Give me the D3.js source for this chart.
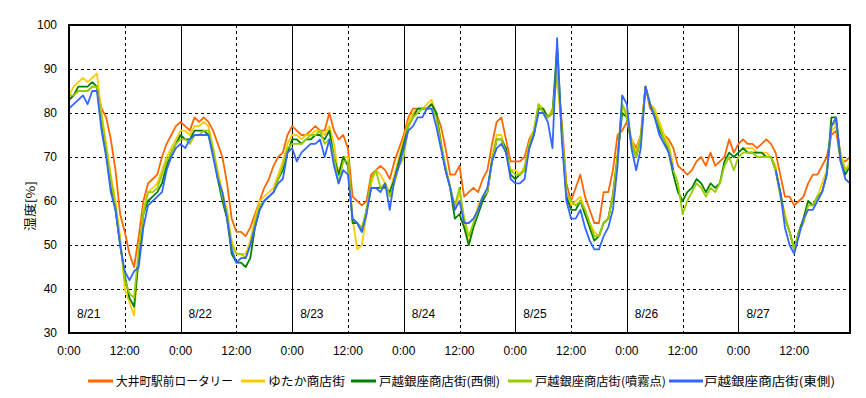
<!DOCTYPE html>
<html><head><meta charset="utf-8">
<script src="https://d3js.org/d3.v7.min.js"></script>
<style>body{margin:0;background:#fff}svg{display:block}</style>
</head><body><div id="chart"></div>
<script>
// hourly humidity readings, 8/21 0:00 .. 8/28 0:00 (169 points)
const seriesNames = ["大井町駅前ロータリー","ゆたか商店街","戸越銀座商店街(西側)","戸越銀座商店街(噴霧点)","戸越銀座商店街(東側)"];
const dateLabels = ["8/21","8/22","8/23","8/24","8/25","8/26","8/27"];
const xTickLabels = ["0:00","12:00","0:00","12:00","0:00","12:00","0:00","12:00","0:00","12:00","0:00","12:00","0:00","12:00"];
const yTicks = [30,40,50,60,70,80,90,100];
const N = null;
const oimachi = [
83,84,85,85,85,86,86,81,79,74,67,57,53,48,45,52,60,64,65,66,70,73,75,77,
78,77,76,79,78,79,78,76,73,70,64,56,53,53,52,54,57,60,63,65,68,70,71,75,
77,76,75,75,76,77,76,76,80,76,74,75,72,61,60,59,60,66,67,68,67,65,69,72,
75,79,81,81,81,81,82,80,77,72,66,66,68,61,62,63,62,65,67,73,78,79,74,69,
69,69,70,74,76,81,81,79,80,89,78,64,60,63,66,61,58,55,55,62,62,67,75,76,
78,74,72,75,86,81,80,77,75,74,72,68,67,66,67,69,70,68,71,68,69,70,74,71,
73,74,73,73,72,73,74,73,71,66,61,61,59,60,61,64,66,66,68,70,75,76,69,69,70];
const yutaka = [
84,86,87,88,87,88,89,80,73,66,60,52,40,37,34,48,58,62,63,64,67,70,72,74,
76,76,75,77,77,78,77,72,67,62,58,51,48,48,48,51,56,60,61,62,63,66,69,73,
75,75,74,75,75,76,76,75,77,73,66,70,70,56,49,50,57,64,67,66,64,62,66,70,
74,78,80,81,81,82,83,80,74,67,63,58,62,56,50,55,59,61,62,70,75,75,71,67,
67,66,68,73,76,82,81,79,81,88,76,62,59,60,61,58,55,53,52,55,56,62,71,82,
80,74,71,75,86,82,81,78,75,73,68,N,N,N,N,N,N,N,N,N,N,N,N,N,
N,72,72,72,71,71,71,70,68,62,57,53,49,53,56,60,59,61,64,67,76,77,71,67,69];
const koshiWest = [
83,84,86,86,86,87,86,78,71,63,58,50,43,38,36,47,57,60,61,62,64,68,71,73,
75,74,74,76,76,76,75,71,65,60,56,48,46,46,45,47,54,58,60,61,62,65,67,71,
74,74,73,74,74,75,75,74,76,70,66,70,68,55,55,53,58,63,63,63,63,62,65,69,
73,77,79,81,81,81,82,80,73,67,63,56,57,54,50,54,57,60,62,69,74,74,72,66,
65,66,67,72,75,81,81,79,80,95,76,61,58,58,60,57,54,51,52,55,56,61,70,80,
79,73,70,74,86,82,79,76,74,71,66,62,60,62,63,65,64,62,64,63,64,69,71,70,
71,72,71,71,71,71,70,70,67,62,56,53,49,53,56,60,59,61,62,66,79,79,69,66,68];
const koshiMist = [
84,84,85,85,85,86,86,79,72,65,59,51,42,39,38,49,57,62,62,63,66,69,71,73,
74,74,73,75,75,76,76,72,66,61,57,50,48,48,47,50,55,59,60,61,62,65,68,72,
73,73,73,74,75,75,76,73,74,70,64,69,69,56,55,54,58,65,67,63,64,61,64,68,
70,77,79,80,81,81,81,79,73,68,63,59,63,56,52,55,58,61,62,69,74,74,71,67,
66,66,67,73,76,82,80,79,80,90,76,62,60,59,60,58,55,52,52,55,56,61,70,82,
79,73,70,74,86,82,80,77,74,72,67,64,57,60,62,64,63,61,63,62,64,68,70,67,
70,71,71,71,70,70,70,70,67,61,56,53,49,53,55,59,59,61,62,66,77,78,70,67,68];
const koshiEast = [
81,82,83,84,82,85,85,76,70,62,58,50,44,42,44,45,54,59,60,61,62,67,70,72,
73,72,74,75,75,75,75,70,65,62,56,49,46,47,47,50,54,58,60,61,62,64,65,71,
72,69,71,72,73,73,74,70,74,68,64,67,66,56,55,53,57,63,63,62,64,58,65,68,
72,76,77,79,79,81,81,77,72,67,63,58,60,55,55,56,58,61,63,69,72,73,71,65,
64,64,65,72,75,80,80,78,72,97,74,60,56,56,58,54,51,49,49,52,54,58,68,84,
82,72,67,72,86,82,79,75,73,71,67,N,N,N,N,N,N,N,N,N,N,N,N,N,
N,N,N,N,N,N,N,N,67,62,54,50,48,52,56,58,58,60,62,66,77,79,69,65,64];
const seriesValues = [oimachi, yutaka, koshiWest, koshiMist, koshiEast];
const colors = ["#FF6600","#FFCC00","#008000","#99CC00","#3366FF"];

const W = 866, H = 398;
const L = 69, R = 850, T = 25, B = 333;
const svg = d3.select("#chart").append("svg").attr("width", W).attr("height", H);
const x = d3.scaleLinear().domain([0, 168]).range([L, R]);
const y = d3.scaleLinear().domain([30, 100]).range([B, T]);
const tickFont = "'Liberation Sans', Arial, sans-serif";
const jpFont = "'Noto Sans CJK JP', sans-serif";

// horizontal dashed grid
svg.append("g").selectAll("line").data(yTicks.filter(v => v > 30 && v < 100)).join("line")
  .attr("x1", L).attr("x2", R).attr("y1", d => Math.round(y(d)) + 0.5).attr("y2", d => Math.round(y(d)) + 0.5)
  .attr("stroke", "#000").attr("stroke-width", 1).attr("stroke-dasharray", "3,3");
// vertical grid: dashed at 12:00, solid at 0:00
const vt = d3.range(12, 168, 12);
svg.append("g").selectAll("line").data(vt).join("line")
  .attr("x1", d => Math.round(x(d)) + 0.5).attr("x2", d => Math.round(x(d)) + 0.5)
  .attr("y1", T).attr("y2", B)
  .attr("stroke", "#000").attr("stroke-width", 1)
  .attr("stroke-dasharray", d => d % 24 === 0 ? null : "3,3");

// date labels
svg.append("g").selectAll("text").data(dateLabels).join("text")
  .attr("x", (d, i) => x(i * 24) + 8).attr("y", 318)
  .attr("font-family", tickFont).attr("font-size", 12).attr("fill", "#000").text(d => d);

// series
const line = d3.line().defined(d => d != null).x((d, i) => x(i)).y(d => y(d));
seriesValues.forEach((vals, k) => {
  svg.append("path").datum(vals).attr("d", line)
    .attr("fill", "none").attr("stroke", colors[k]).attr("stroke-width", 1.8)
    .attr("stroke-linejoin", "round");
});

// border
svg.append("rect").attr("x", L).attr("y", T).attr("width", R - L).attr("height", B - T)
  .attr("fill", "none").attr("stroke", "#000").attr("stroke-width", 2);

// y axis labels
svg.append("g").selectAll("text").data(yTicks).join("text")
  .attr("x", 57).attr("y", d => y(d) + 4).attr("text-anchor", "end")
  .attr("font-family", tickFont).attr("font-size", 12).text(d => d);
// x axis labels
svg.append("g").selectAll("text").data(xTickLabels).join("text")
  .attr("x", (d, i) => x(i * 12)).attr("y", 355).attr("text-anchor", "middle")
  .attr("font-family", tickFont).attr("font-size", 12).text(d => d);

// y title
svg.append("text").attr("transform", "translate(35,206) rotate(-90)")
  .attr("text-anchor", "middle").attr("font-family", jpFont).attr("font-size", 12)
  .attr("textLength", 50).attr("lengthAdjust", "spacingAndGlyphs").text("湿度[%]");

// legend
const legSym = [[88,113],[241,265],[351,376],[508,532],[669,703]];
const legText = [[116,117],[268,77],[379,121],[535,131],[704,131]];
seriesNames.forEach((name, k) => {
  svg.append("line").attr("x1", legSym[k][0]).attr("x2", legSym[k][1]).attr("y1", 381).attr("y2", 381)
    .attr("stroke", colors[k]).attr("stroke-width", 3);
  svg.append("text").attr("x", legText[k][0]).attr("y", 386)
    .attr("font-family", jpFont).attr("font-size", 12)
    .attr("textLength", legText[k][1]).attr("lengthAdjust", "spacingAndGlyphs").text(name);
});
</script></body></html>
